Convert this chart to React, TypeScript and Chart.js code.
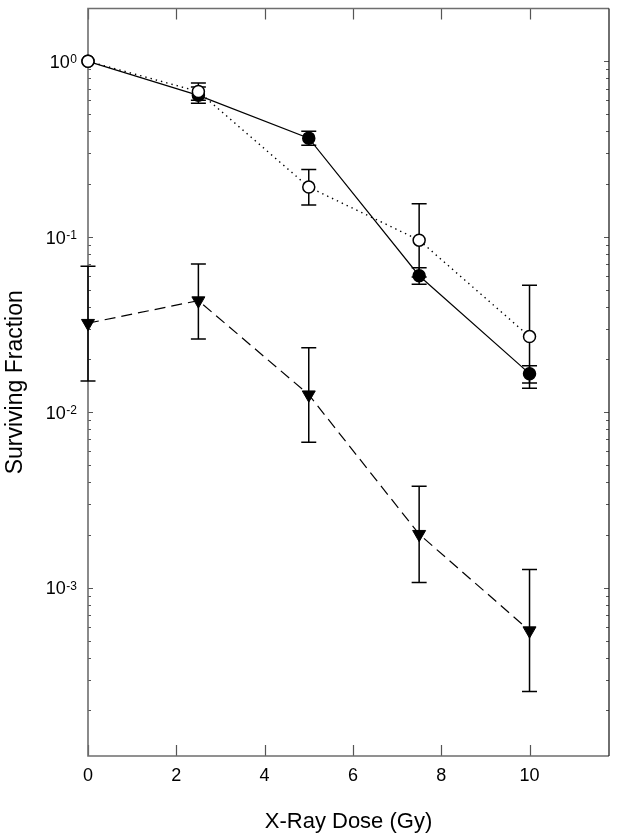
import { useEffect, useRef } from 'react';
import { Chart, registerables } from 'chart.js';

Chart.register(...registerables);

// ---- data ----
const doses = [0, 2.5, 5, 7.5, 10];

const filledSF = [1.0, 0.64, 0.365, 0.06, 0.0166];
const filledLow = [1.0, 0.576, 0.332, 0.0537, 0.0147];
const filledHigh = [1.0, 0.713, 0.4, 0.0667, 0.0184];

const openSF = [1.0, 0.673, 0.192, 0.0957, 0.027];
const openLow = [1.0, 0.6, 0.152, 0.059, 0.0137];
const openHigh = [1.0, 0.753, 0.242, 0.1545, 0.053];

const triSF = [0.0322, 0.0433, 0.0126, 0.00202, 0.00057];
const triLow = [0.0151, 0.0262, 0.00676, 0.00107, 0.000256];
const triHigh = [0.0679, 0.0701, 0.0233, 0.00379, 0.00127];

const xTickValues = [0, 2, 4, 6, 8, 10];
const yDecadeExponents = [0, -1, -2, -3];
const xTitle = 'X-Ray Dose (Gy)';
const yTitle = 'Surviving Fraction';

const X_MIN = 0;
const X_MAX = 11.8;
const Y_MIN = 1.1e-4;
const Y_MAX = 2;

const FONT = 'Arial, "Liberation Sans", Helvetica, sans-serif';

const toPoints = (ys: number[]) => doses.map((d, i) => ({ x: d, y: ys[i] }));

const framePlugin = {
  id: 'frameAndTicks',
  beforeDatasetsDraw(chart: any) {
    const { ctx, chartArea: a, scales } = chart;
    const x = scales.x;
    const y = scales.y;
    ctx.save();
    // y ticks (inside, both sides)
    ctx.strokeStyle = '#555';
    ctx.lineWidth = 1.2;
    for (let e = -5; e <= 1; e++) {
      for (let m = 1; m <= 9; m++) {
        const v = m * Math.pow(10, e);
        if (v <= Y_MIN || v >= Y_MAX) continue;
        const py = Math.round(y.getPixelForValue(v)) + 0.5;
        const len = m === 1 ? 5 : 3;
        ctx.beginPath();
        ctx.moveTo(a.left, py);
        ctx.lineTo(a.left + len, py);
        ctx.moveTo(a.right, py);
        ctx.lineTo(a.right - len, py);
        ctx.stroke();
      }
    }
    // x ticks (inside, bottom and top)
    xTickValues.forEach((v) => {
      const px = Math.round(x.getPixelForValue(v)) + 0.5;
      ctx.beginPath();
      ctx.moveTo(px, a.bottom);
      ctx.lineTo(px, a.bottom - 11);
      ctx.moveTo(px, a.top);
      ctx.lineTo(px, a.top + 11);
      ctx.stroke();
    });
    // frame
    ctx.strokeStyle = '#6e6e6e';
    ctx.lineWidth = 1.6;
    ctx.beginPath();
    ctx.moveTo(a.right, a.top);
    ctx.lineTo(a.left, a.top);
    ctx.lineTo(a.left, a.bottom);
    ctx.lineTo(a.right, a.bottom);
    ctx.stroke();
    ctx.strokeStyle = '#222';
    ctx.lineWidth = 1.3;
    ctx.beginPath();
    ctx.moveTo(a.right, a.top);
    ctx.lineTo(a.right, a.bottom);
    ctx.stroke();
    ctx.restore();
  },
};

const errorBarPlugin = {
  id: 'errorBars',
  beforeDatasetsDraw(chart: any) {
    const { ctx, scales } = chart;
    const x = scales.x;
    const y = scales.y;
    ctx.save();
    ctx.strokeStyle = '#000';
    ctx.lineWidth = 1.5;
    chart.data.datasets.forEach((ds: any) => {
      if (!ds.errLow) return;
      ds.data.forEach((p: any, i: number) => {
        const px = x.getPixelForValue(p.x);
        const lo = y.getPixelForValue(ds.errLow[i]);
        const hi = y.getPixelForValue(ds.errHigh[i]);
        if (Math.abs(lo - hi) < 1) return;
        ctx.beginPath();
        ctx.moveTo(px, lo);
        ctx.lineTo(px, hi);
        ctx.moveTo(px - 7.5, lo);
        ctx.lineTo(px + 7.5, lo);
        ctx.moveTo(px - 7.5, hi);
        ctx.lineTo(px + 7.5, hi);
        ctx.stroke();
      });
    });
    ctx.restore();
  },
};

const yPowerLabelPlugin = {
  id: 'yPowerLabels',
  afterDraw(chart: any) {
    const { ctx, scales } = chart;
    const y = scales.y;
    const right = 77;
    ctx.save();
    ctx.fillStyle = '#000';
    yDecadeExponents.forEach((e) => {
      const py = y.getPixelForValue(Math.pow(10, e));
      const base = '10';
      const exp = String(e);
      ctx.font = `18px ${FONT}`;
      const bw = ctx.measureText(base).width;
      ctx.font = `12px ${FONT}`;
      const ew = ctx.measureText(exp).width;
      ctx.textAlign = 'left';
      ctx.textBaseline = 'alphabetic';
      ctx.font = `18px ${FONT}`;
      ctx.fillText(base, right - ew - bw - 0.5, py + 6.7);
      ctx.font = `12px ${FONT}`;
      ctx.fillText(exp, right - ew, py + 1.8);
    });
    ctx.restore();
  },
};

export default function App() {
  const canvasRef = useRef<HTMLCanvasElement | null>(null);

  useEffect(() => {
    if (!canvasRef.current) return;
    const chart = new Chart(canvasRef.current, {
      type: 'line',
      data: {
        datasets: [
          {
            label: 'open',
            data: toPoints(openSF),
            errLow: openLow,
            errHigh: openHigh,
            borderColor: '#000',
            borderWidth: 1.4,
            borderDash: [1.4, 4],
            pointStyle: 'circle',
            pointRadius: 6,
            pointBackgroundColor: '#fff',
            pointBorderColor: '#000',
            pointBorderWidth: 1.5,
            clip: false,
            order: 1,
          } as any,
          {
            label: 'filled',
            data: toPoints(filledSF),
            errLow: filledLow,
            errHigh: filledHigh,
            borderColor: '#000',
            borderWidth: 1.2,
            pointStyle: 'circle',
            pointRadius: 6,
            pointBackgroundColor: '#000',
            pointBorderColor: '#000',
            pointBorderWidth: 1.5,
            clip: false,
            order: 2,
          } as any,
          {
            label: 'triangle',
            data: toPoints(triSF),
            errLow: triLow,
            errHigh: triHigh,
            borderColor: '#000',
            borderWidth: 1.2,
            borderDash: [11, 6],
            pointStyle: 'triangle',
            pointRotation: 180,
            pointRadius: 7.5,
            pointBackgroundColor: '#000',
            pointBorderColor: '#000',
            pointBorderWidth: 1,
            clip: false,
            order: 3,
          } as any,
        ],
      },
      options: {
        animation: false,
        responsive: true,
        maintainAspectRatio: false,
        layout: { padding: { top: 6, right: 11, left: 0, bottom: 0 } },
        plugins: {
          legend: { display: false },
          tooltip: { enabled: false },
        },
        scales: {
          x: {
            type: 'linear',
            min: X_MIN,
            max: X_MAX,
            grid: { display: false, drawTicks: false },
            border: { display: false },
            ticks: {
              stepSize: 2,
              includeBounds: false,
              autoSkip: false,
              maxRotation: 0,
              padding: 9,
              color: '#000',
              font: { family: FONT, size: 18 },
              callback: (v: any) => (xTickValues.includes(Number(v)) ? String(v) : ''),
            },
            title: {
              display: true,
              text: xTitle,
              color: '#000',
              font: { family: FONT, size: 22 },
              padding: { top: 0, bottom: 3 },
            },
            afterFit: (s: any) => {
              s.height = 82;
            },
          },
          y: {
            type: 'logarithmic',
            min: Y_MIN,
            max: Y_MAX,
            grid: { display: false, drawTicks: false },
            border: { display: false },
            ticks: { display: false },
            title: {
              display: true,
              text: yTitle,
              color: '#000',
              font: { family: FONT, size: 23 },
              padding: { top: 2, bottom: 0 },
            },
            afterFit: (s: any) => {
              s.width = 88;
            },
          },
        },
      },
      plugins: [framePlugin, errorBarPlugin, yPowerLabelPlugin],
    } as any);
    return () => chart.destroy();
  }, []);

  return (
    <div style={{ position: 'absolute', left: 0, top: 0, width: 620, height: 838, background: '#fff' }}>
      <canvas ref={canvasRef} />
    </div>
  );
}
